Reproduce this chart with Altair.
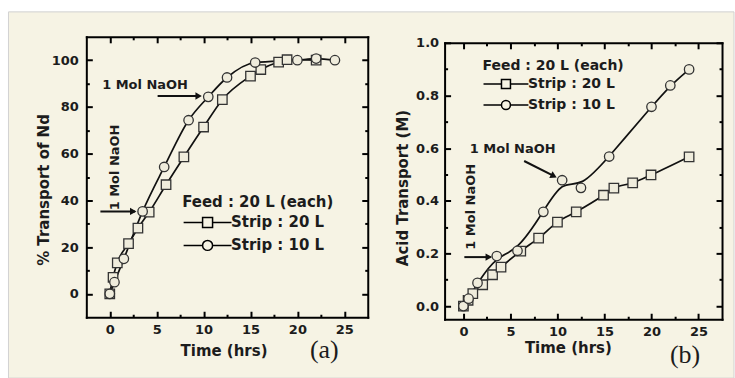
import altair as alt
import pandas as pd

BG = "#f6f3e4"
INK = "#1c1c1c"
MFILL = "#efecdc"
MSTROKE = "#333333"
FONT = "DejaVu Sans"
SERIF = "Liberation Serif"

SERIES = ["Strip : 20 L", "Strip : 10 L"]
LEGEND_TITLE = "Feed : 20 L (each)"
X_TITLE = "Time (hrs)"

# ---------------- panel (a): % Transport of Nd ----------------
a_sq_t = [0, 0.35, 0.8, 2.0, 3.0, 4.2, 6.0, 7.9, 10.0, 12.0, 15.0, 16.1, 18.0, 18.9, 22.0]
a_sq_v = [0, 7.1, 13.3, 21.5, 28.1, 35.0, 46.7, 58.6, 71.4, 83.1, 93.2, 96.0, 99.2, 100.2, 100.0]
a_ci_t = [0, 0.5, 1.5, 3.5, 5.8, 8.4, 10.5, 12.5, 15.5, 20.0, 22.0, 24.0]
a_ci_v = [0, 5.0, 15.0, 35.3, 54.3, 74.3, 84.3, 92.6, 99.0, 100.0, 100.7, 100.0]
a_x_ticks = [0, 2.5, 5, 7.5, 10, 12.5, 15, 17.5, 20, 22.5, 25]
a_y_ticks = [0, 10, 20, 30, 40, 50, 60, 70, 80, 90, 100]

# ---------------- panel (b): Acid Transport (M) ----------------
b_sq_t = [0, 0.5, 1.0, 2.05, 3.1, 4.0, 6.1, 8.0, 10.0, 12.0, 14.9, 16.0, 18.0, 19.95, 24.0]
b_sq_v = [0, 0.022, 0.047, 0.081, 0.119, 0.148, 0.209, 0.258, 0.319, 0.358, 0.421, 0.448, 0.468, 0.498, 0.567]
b_ci_t = [0, 0.55, 1.5, 3.55, 5.75, 8.5, 10.5, 12.5, 15.5, 20.0, 22.0, 24.0]
b_ci_v = [0, 0.028, 0.088, 0.19, 0.21, 0.358, 0.478, 0.449, 0.568, 0.757, 0.838, 0.899]
b_x_ticks = [0, 2.5, 5, 7.5, 10, 12.5, 15, 17.5, 20, 22.5, 25]
b_y_ticks = [0, 0.1, 0.2, 0.3, 0.4, 0.5, 0.6, 0.7, 0.8, 0.9, 1.0]

# ---------------- annotations ("1 Mol NaOH" and arrows) ----------------
a_note_text = ["1 Mol NaOH", "1 Mol NaOH"]
a_note_t = [3.76, 0.6]
a_note_v = [89.3, 54.1]
a_note_ang = [0, 270]
a_arrow_t1 = [5.1, -1.0]
a_arrow_v1 = [84.7, 35.3]
a_arrow_t2 = [9.6, 2.7]
a_arrow_v2 = [84.7, 35.3]
a_head_t = [9.47, 2.5]
a_head_v = [84.7, 35.3]
a_head_ang = [0, 0]

b_note_text = ["1 Mol NaOH", "1 Mol NaOH"]
b_note_t = [5.24, 0.82]
b_note_v = [0.596, 0.377]
b_note_ang = [0, 270]
b_arrow_t1 = [6.46, 0.1]
b_arrow_v1 = [0.551, 0.186]
b_arrow_t2 = [9.7, 2.9]
b_arrow_v2 = [0.493, 0.186]
b_head_t = [9.61, 2.7]
b_head_v = [0.494, 0.186]
b_head_ang = [26.6, 0]

TICK_IN = 6  # ticks point inward; Vega adds the (negative) tick size to the label padding


def legend_path(kind, reach):
    line = f"M-{reach},0H-1M1,0H{reach}"
    if kind == "square":
        return line + "M-1,-1H1V1H-1Z"
    return line + "M-1,0A1,1,0,1,0,1,0A1,1,0,1,0,-1,0Z"


def minor_test(step):
    return f"abs(datum.value / {step} - round(datum.value / {step})) > 0.001"


def make_axis(values, step, orient, fmt=None, title=None, label_gap=5,
              title_x=None, title_y=None, show=True):
    kw = dict(
        values=values, orient=orient, grid=False,
        domainColor="black", domainWidth=2, domainCap="square",
        tickColor="black", tickWidth=2, tickSize={"expr": f"-{TICK_IN}"},
        tickDash={"condition": {"test": minor_test(step), "value": [3, 30]}, "value": []},
        labelOverlap=False, labelFlush=False, zindex=1,
    )
    if show:
        kw.update(
            format=fmt, labelExpr=f"{minor_test(step)} ? '' : datum.label",
            labelFont=FONT, labelFontSize=13, labelFontWeight="bold",
            labelColor=INK, labelPadding=label_gap + TICK_IN,
            title=title, titleFont=FONT, titleFontSize=15, titleFontWeight="bold",
            titleColor=INK, titleX=title_x, titleY=title_y,
            titleAlign="center", titleBaseline="middle",
        )
    else:
        kw.update(labels=False, title=None)
    return alt.Axis(**kw)


def panel(sq_t, sq_v, ci_t, ci_v, xdom, ydom, xt, yt, ystep, yfmt, ytitle,
          w, h, ylab_gap, ytitle_x, ytitle_y, xtitle_x, xtitle_y,
          notes, arrows, heads, leg, tag, ci_interp, bg=False):
    sq = pd.DataFrame({"t": sq_t, "v": sq_v})
    ci = pd.DataFrame({"t": ci_t, "v": ci_v})
    xs = alt.Scale(domain=xdom, nice=False, zero=False)
    ys = alt.Scale(domain=ydom, nice=False, zero=False)

    xb = make_axis(xt, 5, "bottom", fmt="d", title=X_TITLE, label_gap=6,
                   title_x=xtitle_x, title_y=xtitle_y)
    yl = make_axis(yt, ystep, "left", fmt=yfmt, title=ytitle, label_gap=ylab_gap,
                   title_x=ytitle_x, title_y=ytitle_y)
    xtop = make_axis(xt, 5, "top", show=False)
    yr = make_axis(yt, ystep, "right", show=False)

    def X(ax=None, f="t"):
        return alt.X(f"{f}:Q", scale=xs, axis=ax)

    def Y(ax=None, f="v"):
        return alt.Y(f"{f}:Q", scale=ys, axis=ax)

    layers = []
    if bg:
        layers.append(
            alt.Chart(pd.DataFrame({"k": [0]})).mark_rect(
                fill=BG, stroke="#d2d2d2", strokeWidth=1
            ).encode(x=alt.value(-78), x2=alt.value(649), y=alt.value(-25), y2=alt.value(342))
        )
    layers.append(alt.Chart(sq).mark_line(interpolate="monotone", color="#111", strokeWidth=1.7)
                  .encode(x=X(xb), y=Y(yl)))
    layers.append(alt.Chart(ci).mark_line(interpolate=ci_interp, color="#111", strokeWidth=1.7)
                  .encode(x=X(xtop), y=Y(yr)))
    layers.append(alt.Chart(sq).mark_point(shape="square", filled=True, fill=MFILL, stroke=MSTROKE,
                                           strokeWidth=1.3, size=90, opacity=1)
                  .encode(x=X(), y=Y()))
    layers.append(alt.Chart(ci).mark_point(shape="circle", filled=True, fill=MFILL, stroke=MSTROKE,
                                           strokeWidth=1.3, size=90, opacity=1)
                  .encode(x=X(), y=Y()))

    ntext, nt, nv, nang = notes
    ndf = pd.DataFrame({"txt": ntext, "t": nt, "v": nv, "ang": nang})
    layers.append(alt.Chart(ndf).mark_text(font=FONT, fontSize=13, fontWeight="bold", color=INK,
                                           baseline="middle", align="center")
                  .encode(x=X(), y=Y(), text="txt:N", angle=alt.Angle("ang:Q", scale=None)))

    at1, av1, at2, av2 = arrows
    adf = pd.DataFrame({"t": at1, "v": av1, "t2": at2, "v2": av2})
    layers.append(alt.Chart(adf).mark_rule(color="#111", strokeWidth=2)
                  .encode(x=X(), y=Y(), x2="t2:Q", y2="v2:Q"))
    ht, hv, hang = heads
    hdf = pd.DataFrame({"t": ht, "v": hv, "ang": hang})
    layers.append(alt.Chart(hdf).mark_point(shape="triangle-right", filled=True, color="#111",
                                            size=55, opacity=1)
                  .encode(x=X(), y=Y(), angle=alt.Angle("ang:Q", scale=None)))

    lx, ly, lfs, lsize, lreach, lsymoff, llaboff, ltp, lrp = leg
    layers.append(
        alt.Chart(pd.DataFrame({"s": SERIES})).mark_point(color="black", opacity=0).encode(
            shape=alt.Shape("s:N",
                            scale=alt.Scale(domain=SERIES,
                                            range=[legend_path("square", lreach),
                                                   legend_path("circle", lreach)]),
                            legend=alt.Legend(
                                title=LEGEND_TITLE, orient="none", legendX=lx, legendY=ly,
                                padding=0, titleFont=FONT, titleFontSize=lfs,
                                titleFontWeight="bold", titleColor=INK, titlePadding=ltp,
                                labelFont=FONT, labelFontSize=lfs, labelFontWeight="bold",
                                labelColor=INK, labelOffset=llaboff, symbolOffset=lsymoff,
                                symbolSize=lsize, symbolStrokeColor="black",
                                symbolFillColor=MFILL, symbolStrokeWidth=1.5,
                                symbolOpacity=1, rowPadding=lrp,
                            ))
        )
    )

    tx, ty, ttext = tag
    layers.append(alt.Chart(pd.DataFrame({"tag": [ttext]})).mark_text(
        font=SERIF, fontSize=26, color=INK, align="center", baseline="middle")
        .encode(x=alt.value(tx), y=alt.value(ty), text="tag:N"))

    return alt.layer(*layers).resolve_axis(x="independent", y="independent").properties(
        width=w, height=h)


panel_a = panel(
    a_sq_t, a_sq_v, a_ci_t, a_ci_v, [-2.5, 27.5], [-10, 110], a_x_ticks, a_y_ticks, 20, "d",
    "% Transport of Nd", 282, 281, 8, -43, 153, 137.5, 33,
    (a_note_text, a_note_t, a_note_v, a_note_ang),
    (a_arrow_t1, a_arrow_v1, a_arrow_t2, a_arrow_v2),
    (a_head_t, a_head_v, a_head_ang),
    (96, 159, 15, 100, 4.8, 18, 16, 4.5, 6),
    (238.5, 314, "(a)"), "monotone", bg=True,
)

panel_b = panel(
    b_sq_t, b_sq_v, b_ci_t, b_ci_v, [-2, 27.5], [-0.05, 1.0], b_x_ticks, b_y_ticks, 0.2, ".1f",
    "Acid Transport (M)", 278, 277, 6, -42.5, 145, 123.5, 28,
    (b_note_text, b_note_t, b_note_v, b_note_ang),
    (b_arrow_t1, b_arrow_v1, b_arrow_t2, b_arrow_v2),
    (b_head_t, b_head_v, b_head_ang),
    (38, 22, 14, 81, 5, 16.5, 15, 4.3, 5),
    (241, 313, "(b)"), "basis",
)

spacer = alt.Chart(pd.DataFrame({"k": [0]})).mark_point(opacity=0).encode(
    x=alt.value(0), y=alt.value(0)).properties(width=278, height=6)

right = alt.vconcat(spacer, panel_b, spacing=0, bounds="flush")

chart = alt.hconcat(panel_a, right, spacing=77, bounds="flush").resolve_scale(
    shape="independent").resolve_legend(shape="independent").configure(
    background="white", padding={"left": 7.5, "top": 10.5, "right": 0, "bottom": 0},
    font=FONT,
).configure_view(stroke="transparent")

chart.save("out.html", embed_options={"renderer": "svg", "actions": False})
